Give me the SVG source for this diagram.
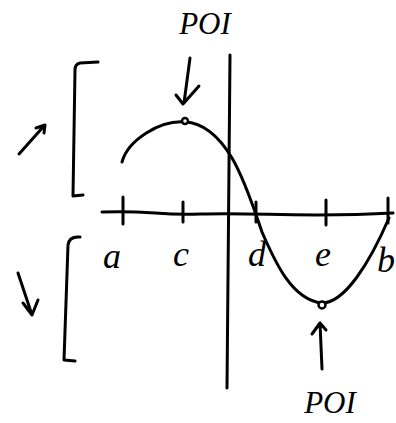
<svg xmlns="http://www.w3.org/2000/svg" width="396" height="423" viewBox="0 0 396 423">
<style>
.s{fill:none;stroke:#000;stroke-width:3;stroke-linecap:round;stroke-linejoin:round}
.t{font-family:"Liberation Serif",serif;font-style:italic;fill:#000}
.p{font-size:31px}
.l{font-size:36px}
</style>
<rect width="396" height="423" fill="#fff"/>
<g id="axes">
<path class="s" d="M102,212 C150,210 160,216 200,214 C260,212 300,218 393,213"/>
<path class="s" d="M230,55 C229,150 228,300 227,388"/>
<path class="s" d="M123,197 L123,224 M183,202 L183,222 M256,202 L256,222 M326,200 L326,225 M388,198 L388,223"/>
</g>
<g id="curve">
<path class="s" d="M122,162 C128,140 160,120 185,122 C205,123 220,138 232,158 C245,180 255,212 262,232 C275,262 292,300 322,303 C345,303 370,262 389,218"/>
<circle cx="185" cy="121" r="3" fill="#fff" stroke="#000" stroke-width="2.5"/>
<circle cx="322" cy="305" r="3.5" fill="#fff" stroke="#000" stroke-width="2.5"/>
</g>
<g id="brackets">
<path class="s" d="M98,62 L80,63 Q75,64 75,70 L73,196 L83,195"/>
<path class="s" d="M80,237 Q69,236 68,245 L64,360 L75,361"/>
</g>
<g id="connectors">
<path class="s" d="M19,154 L44,126 M36,128 L45,125 L44,133"/>
<path class="s" d="M18,273 L32,315 M23,303 L32,315 L38,300"/>
<path class="s" d="M190,58 L184,103 M176,95 L183,104 L199,86"/>
<path class="s" d="M322,369 L320,323 M312,334 L320,323 L326,330"/>
</g>
<g id="labels">
<text class="t p" x="205" y="34" text-anchor="middle">POI</text>
<text class="t p" x="330" y="413" text-anchor="middle">POI</text>
<text class="t l" x="112" y="268" text-anchor="middle">a</text>
<text class="t l" x="181" y="266" text-anchor="middle">c</text>
<text class="t l" x="257" y="266" text-anchor="middle">d</text>
<text class="t l" x="323" y="266" text-anchor="middle">e</text>
<text class="t l" x="386" y="272" text-anchor="middle">b</text>
</g>
</svg>
